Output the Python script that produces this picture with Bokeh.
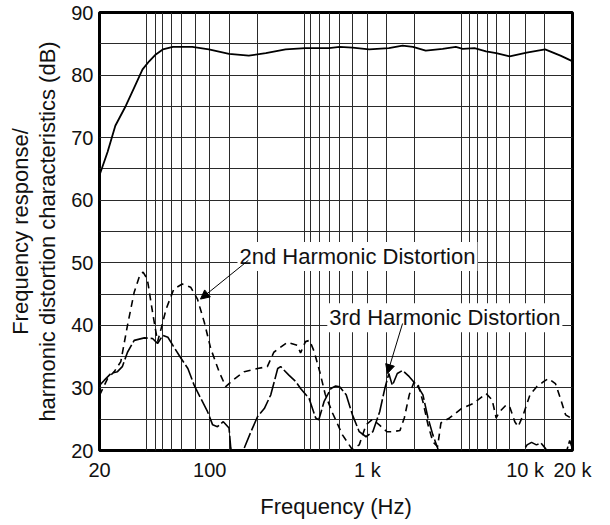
from bokeh.plotting import figure
from bokeh.models import FixedTicker, Label, Arrow, NormalHead, Range1d, LinearAxis
from bokeh.embed import file_html
from bokeh.resources import INLINE

# ---- data ----
resp_hz = [20, 22.5, 25.2, 29.4, 33.2, 37.5, 41.3, 45.5, 50.4, 58.4, 77.5, 98.8, 132.6, 177,
           227, 303, 405, 571, 667, 804, 1027, 1368, 1672, 1944, 2345, 3000, 3640, 4023,
           4779, 5659, 6560, 7990, 10240, 13400, 16780, 19600, 20000]
resp_db = [64.0, 67.7, 71.9, 75.1, 78.0, 80.9, 82.2, 83.3, 84.1, 84.5, 84.5, 84.1, 83.4, 83.1,
           83.5, 84.1, 84.3, 84.3, 84.5, 84.4, 84.1, 84.3, 84.7, 84.5, 83.9, 84.2, 84.5, 84.2,
           84.3, 83.8, 83.5, 83.0, 83.6, 84.1, 83.1, 82.3, 82.2]

h2_hz = [20, 22.5, 24.8, 27.3, 30.1, 33.2, 36, 37.8, 40.2, 43.4, 46.7, 49.1, 52.9, 59.2, 67,
         75.7, 83.6, 92.4, 101.5, 114.7, 126.4, 139.6, 165.6, 201, 232, 255, 311, 359, 377,
         405, 430, 460, 500, 540, 601, 695, 800, 888, 981, 1080, 1200, 1330, 1450, 1610,
         1715, 1844, 1980, 2100, 2251, 2424, 2602, 2788, 2928, 3319, 3948, 4683, 5659, 6185,
         6560, 6902, 7605, 7990, 8612, 9042, 9740, 10750, 11860, 13100, 14100, 15580, 16780,
         18080, 19480, 20000]
h2_db = [28.8, 31.5, 32.6, 34.2, 40.0, 45.3, 48.0, 48.5, 47.4, 42.1, 37.4, 39.4, 42.6, 45.8, 46.6,
         46.1, 44.2, 40.5, 36.3, 32.6, 30.2, 31.2, 32.6, 33.1, 33.4, 35.7, 37.3, 36.8, 35.6,
         37.4, 37.6, 35.8, 32.5, 29.0, 26.0, 22.5, 20.2, 20.9, 24.1, 25.0, 24.0, 23.0, 23.0, 23.2,
         25.2, 28.9, 31.0, 30.5, 27.8, 24.1, 21.4, 20.6, 24.4, 25.2, 26.7, 27.5, 29.1, 28.1,
         25.2, 26.2, 27.3, 27.0, 24.6, 23.8, 25.7, 28.9, 30.2, 31.0, 31.5, 30.7, 28.3,
         25.7, 25.2, 25.0]

h3_hz = [20, 21.4, 23.6, 26, 27.9, 30.1, 33.2, 38.5, 43.4, 46.7, 50.4, 54.3, 58.4, 65.9, 72.7,
         79.8, 87.9, 96.9, 104.4, 112, 122, 132.6, 136, 148, 165.6, 182.6, 201, 222, 244, 270,
         282, 319, 352, 377, 427, 470, 492, 531, 587, 630, 667, 734, 804, 888, 981, 1083,
         1197, 1290, 1368, 1440, 1548, 1672, 1844, 2092, 2251, 2424, 2602, 2790, 3000, 5000,
         8000, 9500, 10300, 11000, 11800, 12600, 13500, 14500, 17000, 18500, 19200, 20000]
h3_db = [30.4, 31.2, 32.3, 32.6, 33.4, 35.7, 37.6, 38.0, 37.9, 37.1, 38.4, 38.1, 36.8, 34.7, 33.1,
         30.4, 28.3, 26.2, 24.1, 23.8, 24.6, 23.6, 20.4, 17.0, 20.4, 23.0, 25.4, 26.7, 28.9, 33.1,
         33.4, 32.0, 31.0, 29.9, 28.3, 25.2, 24.9, 27.8, 29.9, 30.3, 30.2, 28.9, 25.7, 23.0, 22.2, 23.0,
         26.2, 29.9, 32.3, 30.4, 32.3, 32.8, 31.8, 30.2, 28.9, 25.2, 22.5, 20.4, 17.0, 15.0,
         16.0, 19.5, 20.9, 21.3, 20.9, 21.2, 20.3, 18.0, 17.5, 20.2, 21.6, 20.3]

x_ticks = [20, 100, 1000, 10000, 20000]
x_tick_labels = ["20", "100", "1 k", "10 k", "20 k"]
y_ticks = [20, 30, 40, 50, 60, 70, 80, 90]
grid_hz = [40, 45, 50, 57, 66, 81, 100, 133, 200, 400, 436, 497, 575, 665, 805, 1000, 1322, 1990,
           3950, 4445, 4990, 5780, 6590, 7970, 10000, 13300]
grid_db = [25, 30, 35, 40, 45, 50, 55, 60, 65, 70, 75, 80, 85]

y_title_1 = "Frequency response/"
y_title_2 = "harmonic distortion characteristics (dB)"
x_title = "Frequency (Hz)"

FONT = "Liberation Sans"
INK = "#111111"

p = figure(x_axis_type="log", x_range=Range1d(20, 20000), y_range=Range1d(20, 90),
           frame_width=473, frame_height=438,
           min_border_left=99, min_border_right=22, min_border_top=12, min_border_bottom=60,
           output_backend="svg", toolbar_location=None,
           background_fill_color="white", border_fill_color="white")

p.outline_line_color = "black"
p.outline_line_width = 3

# grids
p.xgrid.ticker = FixedTicker(ticks=grid_hz)
p.ygrid.ticker = FixedTicker(ticks=grid_db)
for g in (p.xgrid, p.ygrid):
    g.grid_line_color = "#2a2a2a"
    g.grid_line_width = 1
    g.grid_line_alpha = 1.0

# axes
p.xaxis.ticker = FixedTicker(ticks=x_ticks)
p.xaxis.major_label_overrides = {t: l for t, l in zip(x_ticks, x_tick_labels)}
p.yaxis.ticker = FixedTicker(ticks=y_ticks)

outer = LinearAxis(ticker=FixedTicker(ticks=[]), axis_label=y_title_1)
p.add_layout(outer, "left")

for ax in (p.xaxis[0], p.yaxis[0], outer):
    ax.axis_line_color = None
    ax.major_tick_line_color = None
    ax.minor_tick_line_color = None
    ax.major_tick_in = 0
    ax.major_tick_out = 0
    ax.minor_tick_out = 0
    ax.major_label_text_font = FONT
    ax.major_label_text_font_size = "20px"
    ax.major_label_text_color = INK
    ax.axis_label_text_font = FONT
    ax.axis_label_text_font_size = "22px"
    ax.axis_label_text_font_style = "normal"
    ax.axis_label_text_color = INK

outer.major_label_text_font_size = "0px"
outer.major_label_standoff = 0
outer.axis_label_standoff = 0

p.xaxis.major_label_standoff = 8
p.yaxis[0].major_label_standoff = 6
p.xaxis.axis_label = x_title
p.xaxis.axis_label_standoff = 10
p.yaxis[0].axis_label = y_title_2
p.yaxis[0].axis_label_standoff = 8

# curves
p.line(resp_hz, resp_db, line_color="black", line_width=1.8)
p.line(h2_hz, h2_db, line_color="black", line_width=1.6, line_dash="7 5")
p.line(h3_hz, h3_db, line_color="black", line_width=1.6, line_dash="16 3")

# annotations
lab2 = Label(x=150, y=51.0, text="2nd Harmonic Distortion", text_font=FONT,
             text_font_size="22px", text_color=INK, text_baseline="alphabetic",
             background_fill_color="white", padding=2)
lab3 = Label(x=557, y=41.2, text="3rd Harmonic Distortion", text_font=FONT,
             text_font_size="22px", text_color=INK, text_baseline="alphabetic",
             background_fill_color="white", padding=2)
p.add_layout(lab2)
p.add_layout(lab3)

p.add_layout(Arrow(end=NormalHead(size=9, fill_color="black", line_color="black"),
                   x_start=176, y_start=50.4, x_end=87.4, y_end=44.2,
                   line_color="black", line_width=1))
p.add_layout(Arrow(end=NormalHead(size=9, fill_color="black", line_color="black"),
                   x_start=1672, y_start=40.3, x_end=1340, y_end=32.3,
                   line_color="black", line_width=1))

open("out.html", "w").write(file_html(p, INLINE))
